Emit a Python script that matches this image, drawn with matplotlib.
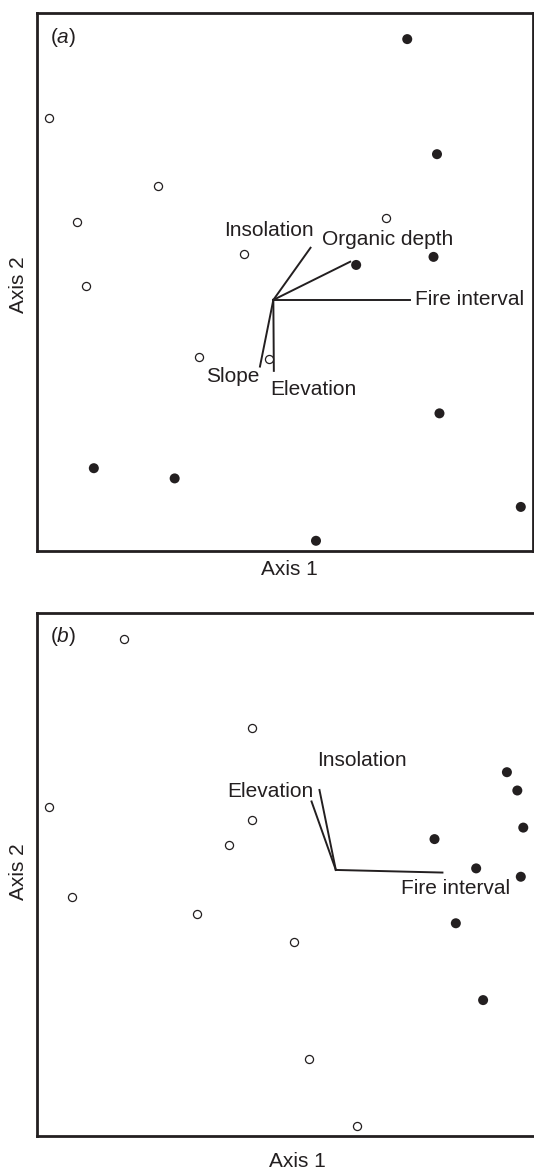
import matplotlib
matplotlib.use("Agg")
import matplotlib.pyplot as plt

plt.rcParams['font.family'] = ['Liberation Sans', 'DejaVu Sans']
plt.rcParams['mathtext.fontset'] = 'custom'
plt.rcParams['mathtext.rm'] = 'Liberation Sans'
plt.rcParams['mathtext.it'] = 'Liberation Sans:italic'

INK = '#231f20'
FS = 15

# --- Panel (a): site scores ---
a_open_x = [2.5, 24.4, 8.2, 41.8, 10.0, 70.5, 32.8, 46.8]
a_open_y = [80.6, 67.9, 61.1, 55.2, 49.3, 61.9, 36.0, 35.8]
a_fill_x = [74.7, 80.7, 64.4, 80.0, 81.2, 11.5, 27.8, 97.6, 56.3]
a_fill_y = [95.2, 73.8, 53.2, 54.7, 25.6, 15.4, 13.5, 8.2, 1.9]

# environmental vectors (a)
a_origin = (47.7, 46.7)
a_vec_names = ['Insolation', 'Organic depth', 'Fire interval', 'Slope', 'Elevation']
a_vec_x = [55.2, 63.2, 75.3, 45.0, 47.8]
a_vec_y = [56.4, 53.8, 46.7, 34.3, 33.5]

# --- Panel (b) ---
b_open_x = [17.6, 43.3, 2.5, 43.3, 38.8, 7.1, 32.4, 51.8, 54.9, 64.6]
b_open_y = [95.1, 78.1, 63.0, 60.5, 55.7, 45.7, 42.5, 37.2, 14.7, 2.0]
b_fill_x = [94.8, 96.9, 98.1, 80.2, 88.6, 97.6, 84.5, 90.0]
b_fill_y = [69.6, 66.1, 59.0, 56.8, 51.2, 49.6, 40.7, 26.0]

b_origin = (60.3, 50.9)
b_vec_names = ['Fire interval', 'Insolation', 'Elevation']
b_vec_x = [81.8, 57.0, 55.4]
b_vec_y = [50.4, 66.2, 64.0]

# label placement (data coords, alignment)
a_label_pos = {
    'Insolation': (46.9, 59.6, 'center'),
    'Organic depth': (57.5, 58.0, 'left'),
    'Fire interval': (76.3, 46.7, 'left'),
    'Slope': (44.9, 32.4, 'right'),
    'Elevation': (47.0, 30.1, 'left'),
}
b_label_pos = {
    'Insolation': (65.5, 71.8, 'center'),
    'Elevation': (55.8, 65.9, 'right'),
    'Fire interval': (95.4, 47.3, 'right'),
}

W, H = 534, 1171
fig = plt.figure(figsize=(W / 100, H / 100), dpi=100)


def px_axes(left, top, right, bottom):
    return fig.add_axes([left / W, 1 - bottom / H, (right - left) / W, (bottom - top) / H])


def draw_panel(ax, ox, oy, fx, fy, origin, names, vx, vy, label_pos, tag, xmax):
    ax.scatter(ox, oy, s=34, facecolors='white', edgecolors=INK, linewidths=0.9, zorder=3)
    ax.scatter(fx, fy, s=52, color=INK, edgecolors='none', zorder=3)
    for name, ex, ey in zip(names, vx, vy):
        ax.plot([origin[0], ex], [origin[1], ey], color=INK, lw=1.4, zorder=2)
        lx, ly, ha = label_pos[name]
        ax.text(lx, ly, name, ha=ha, va='center', fontsize=FS, color=INK)
    ax.text(0.027, 0.955, '(' + r'$\mathit{' + tag + '}$' + ')', transform=ax.transAxes,
            fontsize=FS, color=INK, va='center')
    ax.set_xlim(0, xmax)
    ax.set_ylim(0, 100)
    ax.set_xticks([])
    ax.set_yticks([])
    for sp in ax.spines.values():
        sp.set_linewidth(2.0)
        sp.set_color(INK)


ax_a = px_axes(36.8, 13.3, 532.7, 551)
draw_panel(ax_a, a_open_x, a_open_y, a_fill_x, a_fill_y, a_origin, a_vec_names,
           a_vec_x, a_vec_y, a_label_pos, 'a', 100)

ax_b = px_axes(36.8, 613.3, 544, 1136)
draw_panel(ax_b, b_open_x, b_open_y, b_fill_x, b_fill_y, b_origin, b_vec_names,
           b_vec_x, b_vec_y, b_label_pos, 'b', (544 - 36.8) / 4.959)

fig.text(289 / W, 1 - 570 / H, 'Axis 1', ha='center', va='center', fontsize=FS, color=INK)
fig.text(297 / W, 1 - 1161.7 / H, 'Axis 1', ha='center', va='center', fontsize=FS, color=INK)
fig.text(19 / W, 1 - 284.7 / H, 'Axis 2', ha='center', va='center', rotation=90, fontsize=FS, color=INK)
fig.text(19 / W, 1 - 872 / H, 'Axis 2', ha='center', va='center', rotation=90, fontsize=FS, color=INK)

fig.savefig('out.png', dpi=100)
